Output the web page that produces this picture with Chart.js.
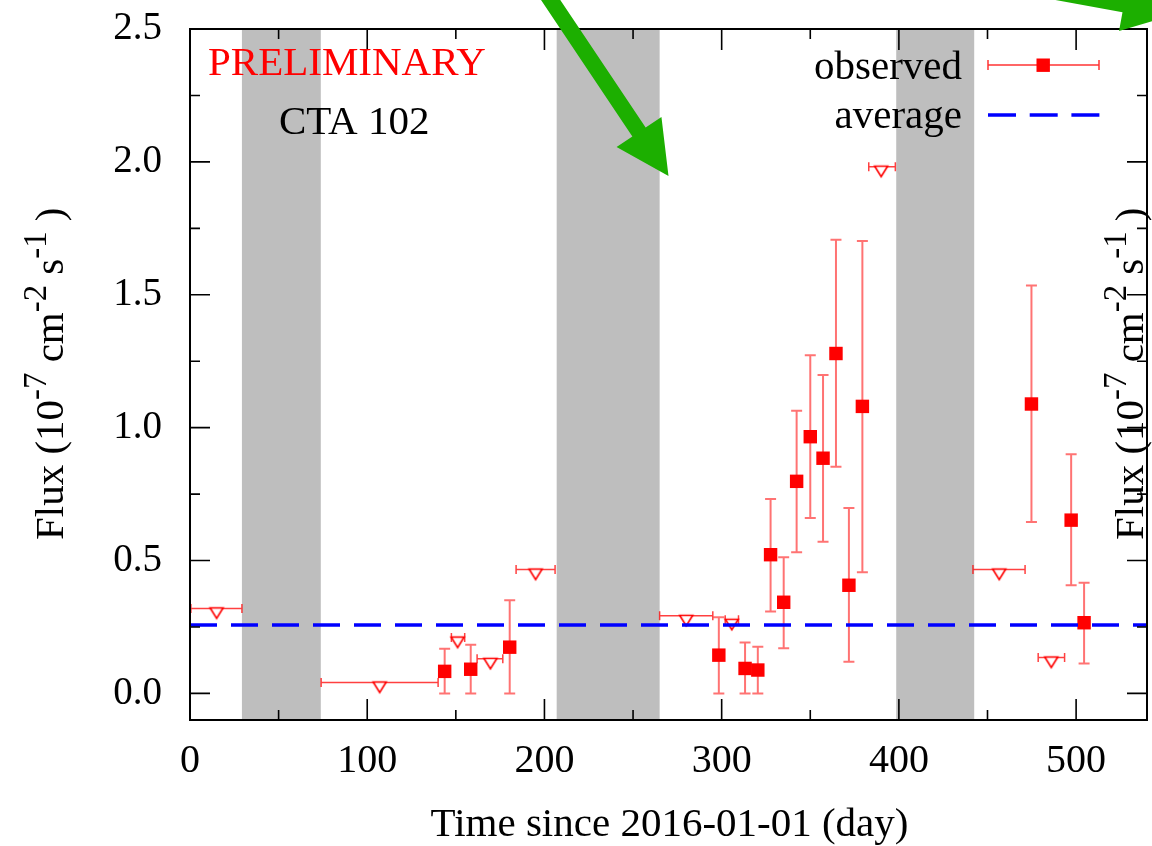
<!DOCTYPE html>
<html>
<head>
<meta charset="utf-8">
<title>CTA 102 light curve</title>
<script src="https://cdn.jsdelivr.net/npm/chart.js@4/dist/chart.umd.min.js"></script>
<style>
  html, body { margin: 0; padding: 0; background: #ffffff; }
  #wrap { width: 1152px; height: 846px; }
  canvas { display: block; }
</style>
</head>
<body>
<div id="wrap"><canvas id="lc" width="1152" height="846"></canvas></div>
<script>
// Detected fluxes (10^-7 cm^-2 s^-1) with their lower / upper error bounds
const obsDay  = [143.7, 158.4, 180.4, 298.4, 313.2, 320.4, 327.6, 335.0, 342.3, 350.0, 357.2, 364.5, 371.8, 379.4, 474.8, 497.2, 504.5];
const obsFlux = [0.083, 0.091, 0.174, 0.144, 0.094, 0.088, 0.522, 0.343, 0.798, 0.966, 0.885, 1.279, 0.407, 1.080, 1.089, 0.652, 0.266];
const obsLow  = [0.000, 0.000, 0.000, 0.000, 0.000, 0.000, 0.308, 0.170, 0.531, 0.660, 0.571, 0.853, 0.119, 0.456, 0.645, 0.407, 0.113];
const obsHigh = [0.168, 0.183, 0.351, 0.287, 0.192, 0.176, 0.732, 0.512, 1.064, 1.272, 1.198, 1.707, 0.698, 1.702, 1.535, 0.900, 0.416];

// Upper limits and the time span each one covers
const ulDay  = [15.0, 107.0, 151.0, 169.5, 195.0, 280.0, 305.7, 390.0, 456.6, 486.0];
const ulFlux = [0.320, 0.041, 0.210, 0.130, 0.466, 0.292, 0.277, 1.982, 0.466, 0.135];
const ulFrom = [0.5, 74.0, 147.5, 162.0, 184.0, 265.0, 302.0, 383.0, 441.8, 478.6];
const ulTo   = [29.3, 140.0, 155.0, 176.5, 206.0, 295.0, 309.5, 398.0, 471.2, 493.5];

// Periods without observations (shaded)
const gapStart = [29.3, 206.9, 398.5];
const gapEnd   = [73.8, 265.0, 442.5];

// Mean flux level
const averageFlux = [0.257];

// Axis ticks
const xTicks  = [0, 100, 200, 300, 400, 500];
const xLabels = ['0', '100', '200', '300', '400', '500'];
const yTicks  = [0, 0.5, 1.0, 1.5, 2.0, 2.5];
const yLabels = ['0.0', '0.5', '1.0', '1.5', '2.0', '2.5'];

// Pointer arrows, given as [tail day, tail flux, tip day, tip flux]
const arrowTail = [[176.3, 2.88], [390.6, 2.76]];
const arrowTip  = [[270.0, 1.947], [556.4, 2.556]];

const SERIF = '"Liberation Serif", "Times New Roman", serif';
const ERR_RED = 'rgba(255, 0, 0, 0.55)';

// Open downward triangle, its top edge sitting on the limit value
function triangleMarker() {
  const c = document.createElement('canvas');
  c.width = 30; c.height = 30;
  const g = c.getContext('2d');
  g.strokeStyle = '#ff0000';
  g.fillStyle = '#ffffff';
  g.lineWidth = 1.6;
  g.beginPath();
  g.moveTo(8.5, 14.5);
  g.lineTo(21.5, 14.5);
  g.lineTo(15, 25);
  g.closePath();
  g.fill();
  g.stroke();
  return c;
}

function drawSuperText(ctx, pieces, size) {
  // pieces drawn left to right from the current origin, superscripts raised
  let cx = 0;
  for (const p of pieces) {
    const s = p.sup ? size * 0.8 : size;
    ctx.font = s + 'px ' + SERIF;
    ctx.fillText(p.t, cx, p.sup ? -size * 0.42 : 0);
    cx += ctx.measureText(p.t).width;
  }
}

const fluxTitle = [
  { t: 'Flux (10' }, { t: '-7', sup: true }, { t: ' cm' }, { t: '-2', sup: true },
  { t: ' s' }, { t: '-1', sup: true }, { t: ' )' }
];

function drawArrow(ctx, x0, y0, x1, y1) {
  const dx = x1 - x0, dy = y1 - y0;
  const len = Math.hypot(dx, dy);
  const ux = dx / len, uy = dy / len;
  const px = -uy, py = ux;
  const headLen = 53, headHalf = 27, shaftHalf = 8;
  const bx = x1 - ux * headLen, by = y1 - uy * headLen;
  ctx.beginPath();
  ctx.moveTo(x0 + px * shaftHalf, y0 + py * shaftHalf);
  ctx.lineTo(bx + px * shaftHalf, by + py * shaftHalf);
  ctx.lineTo(bx + px * headHalf, by + py * headHalf);
  ctx.lineTo(x1, y1);
  ctx.lineTo(bx - px * headHalf, by - py * headHalf);
  ctx.lineTo(bx - px * shaftHalf, by - py * shaftHalf);
  ctx.lineTo(x0 - px * shaftHalf, y0 - py * shaftHalf);
  ctx.closePath();
  ctx.fill();
}

// scales keep a fixed footprint so the plot frame lands where intended
function fixScale(size, prop) {
  return (s) => {
    s[prop] = size;
    s.paddingTop = 0; s.paddingBottom = 0; s.paddingLeft = 0; s.paddingRight = 0;
  };
}

const decorations = {
  id: 'decorations',
  beforeDatasetsDraw(chart) {
    const { ctx, chartArea: a, scales: { x, y } } = chart;
    ctx.save();
    // shaded gaps
    ctx.fillStyle = '#bebebe';
    gapStart.forEach((s, i) => {
      const l = x.getPixelForValue(s), r = x.getPixelForValue(gapEnd[i]);
      ctx.fillRect(l, a.top, r - l, a.bottom - a.top);
    });
    // vertical error bars of detections
    ctx.strokeStyle = ERR_RED;
    ctx.lineWidth = 2;
    obsDay.forEach((d, i) => {
      const px = x.getPixelForValue(d);
      const lo = y.getPixelForValue(obsLow[i]), hi = y.getPixelForValue(obsHigh[i]);
      ctx.beginPath();
      ctx.moveTo(px, lo); ctx.lineTo(px, hi);
      ctx.moveTo(px - 5.5, lo); ctx.lineTo(px + 5.5, lo);
      ctx.moveTo(px - 5.5, hi); ctx.lineTo(px + 5.5, hi);
      ctx.stroke();
    });
    // horizontal spans of upper limits
    ctx.strokeStyle = 'rgba(255, 0, 0, 0.75)';
    ctx.lineWidth = 1.5;
    ulDay.forEach((d, i) => {
      const py = y.getPixelForValue(ulFlux[i]);
      const l = x.getPixelForValue(ulFrom[i]), r = x.getPixelForValue(ulTo[i]);
      ctx.beginPath();
      ctx.moveTo(l, py); ctx.lineTo(r, py);
      ctx.moveTo(l, py - 4.5); ctx.lineTo(l, py + 4.5);
      ctx.moveTo(r, py - 4.5); ctx.lineTo(r, py + 4.5);
      ctx.stroke();
    });
    ctx.restore();
  },
  afterDraw(chart) {
    const { ctx, chartArea: a, scales: { x, y } } = chart;
    ctx.save();
    // frame
    ctx.strokeStyle = '#000000';
    ctx.lineWidth = 2;
    ctx.strokeRect(a.left, a.top, a.right - a.left, a.bottom - a.top);
    // inward tick marks on all four sides
    ctx.lineWidth = 1.6;
    ctx.beginPath();
    xTicks.forEach((v) => {
      const px = x.getPixelForValue(v);
      ctx.moveTo(px, a.bottom); ctx.lineTo(px, a.bottom - 21);
      ctx.moveTo(px, a.top); ctx.lineTo(px, a.top + 21);
      const m = v + (xTicks[1] - xTicks[0]) / 2;
      if (m < x.max) {
        const pm = x.getPixelForValue(m);
        ctx.moveTo(pm, a.bottom); ctx.lineTo(pm, a.bottom - 10);
        ctx.moveTo(pm, a.top); ctx.lineTo(pm, a.top + 10);
      }
    });
    yTicks.forEach((v) => {
      const py = y.getPixelForValue(v);
      ctx.moveTo(a.left, py); ctx.lineTo(a.left + 20, py);
      ctx.moveTo(a.right, py); ctx.lineTo(a.right - 20, py);
      const m = v + (yTicks[1] - yTicks[0]) / 2;
      if (m < y.max) {
        const pm = y.getPixelForValue(m);
        ctx.moveTo(a.left, pm); ctx.lineTo(a.left + 10, pm);
        ctx.moveTo(a.right, pm); ctx.lineTo(a.right - 10, pm);
      }
    });
    ctx.stroke();

    // annotations inside the frame
    ctx.textBaseline = 'alphabetic';
    ctx.textAlign = 'left';
    ctx.font = '41px ' + SERIF;
    ctx.fillStyle = '#ff0000';
    ctx.fillText('PRELIMINARY', 208, 75);
    ctx.fillStyle = '#000000';
    ctx.fillText('CTA 102', 279, 134);

    // key
    ctx.textAlign = 'right';
    ctx.fillText('observed', 962, 79);
    ctx.fillText('average', 962, 128);
    ctx.strokeStyle = 'rgba(255, 0, 0, 0.8)';
    ctx.lineWidth = 1.5;
    ctx.beginPath();
    ctx.moveTo(988, 65); ctx.lineTo(1099, 65);
    ctx.moveTo(988, 60); ctx.lineTo(988, 70);
    ctx.moveTo(1099, 60); ctx.lineTo(1099, 70);
    ctx.stroke();
    ctx.fillStyle = '#ff0000';
    ctx.fillRect(1036.5, 58.5, 13.4, 13.4);
    ctx.strokeStyle = '#0000ff';
    ctx.lineWidth = 3.5;
    ctx.setLineDash([28, 13.7]);
    ctx.beginPath();
    ctx.moveTo(988, 115); ctx.lineTo(1099.5, 115);
    ctx.stroke();
    ctx.setLineDash([]);

    // axis titles
    ctx.fillStyle = '#000000';
    ctx.textAlign = 'center';
    ctx.font = '41px ' + SERIF;
    ctx.fillText('Time since 2016-01-01 (day)', (a.left + a.right) / 2 + 1, 836);
    ctx.textAlign = 'left';
    [63, 1143].forEach((bx) => {
      ctx.save();
      ctx.translate(bx, 540);
      ctx.rotate(-Math.PI / 2);
      drawSuperText(ctx, fluxTitle, 41);
      ctx.restore();
    });

    // pointer arrows
    ctx.fillStyle = 'rgb(28, 175, 0)';
    arrowTip.forEach((t, i) => {
      const s = arrowTail[i];
      drawArrow(ctx, x.getPixelForValue(s[0]), y.getPixelForValue(s[1]),
                     x.getPixelForValue(t[0]), y.getPixelForValue(t[1]));
    });
    ctx.restore();
  }
};

new Chart(document.getElementById('lc'), {
  type: 'scatter',
  data: {
    datasets: [
      {
        label: 'average',
        type: 'line',
        data: [{ x: 0, y: averageFlux[0] }, { x: 540, y: averageFlux[0] }],
        borderColor: '#0000ff',
        borderWidth: 3.5,
        borderDash: [27, 14],
        pointRadius: 0,
        showLine: true,
        fill: false,
        order: 0
      },
      {
        label: 'observed',
        data: obsDay.map((d, i) => ({ x: d, y: obsFlux[i] })),
        pointStyle: 'rect',
        pointRadius: 9.5,
        pointHoverRadius: 9.5,
        backgroundColor: '#ff0000',
        borderWidth: 0,
        order: 1
      },
      {
        label: 'upper limit',
        data: ulDay.map((d, i) => ({ x: d, y: ulFlux[i] })),
        pointStyle: triangleMarker(),
        pointRadius: 8,
        order: 2
      }
    ]
  },
  options: {
    responsive: false,
    devicePixelRatio: 1,
    animation: false,
    events: [],
    layout: { autoPadding: false, padding: { top: 29, right: 5, left: 0, bottom: 0 } },
    plugins: { legend: { display: false }, tooltip: { enabled: false } },
    scales: {
      x: {
        type: 'linear',
        min: 0,
        max: 540,
        afterBuildTicks: (s) => { s.ticks = xTicks.map((v) => ({ value: v })); },
        afterFit: fixScale(126, 'height'),
        grid: { display: false, drawTicks: false },
        border: { display: false },
        ticks: {
          color: '#000000',
          font: { family: SERIF, size: 40 },
          padding: 17,
          maxRotation: 0,
          autoSkip: false,
          callback: (v) => xLabels[xTicks.indexOf(v)]
        }
      },
      y: {
        type: 'linear',
        min: -0.1,
        max: 2.5,
        afterBuildTicks: (s) => { s.ticks = yTicks.map((v) => ({ value: v })); },
        afterFit: fixScale(190, 'width'),
        grid: { display: false, drawTicks: false },
        border: { display: false },
        ticks: {
          color: '#000000',
          font: { family: SERIF, size: 39 },
          padding: 28,
          autoSkip: false,
          callback: (v) => yLabels[yTicks.indexOf(v)]
        }
      }
    }
  },
  plugins: [decorations]
});
</script>
</body>
</html>
